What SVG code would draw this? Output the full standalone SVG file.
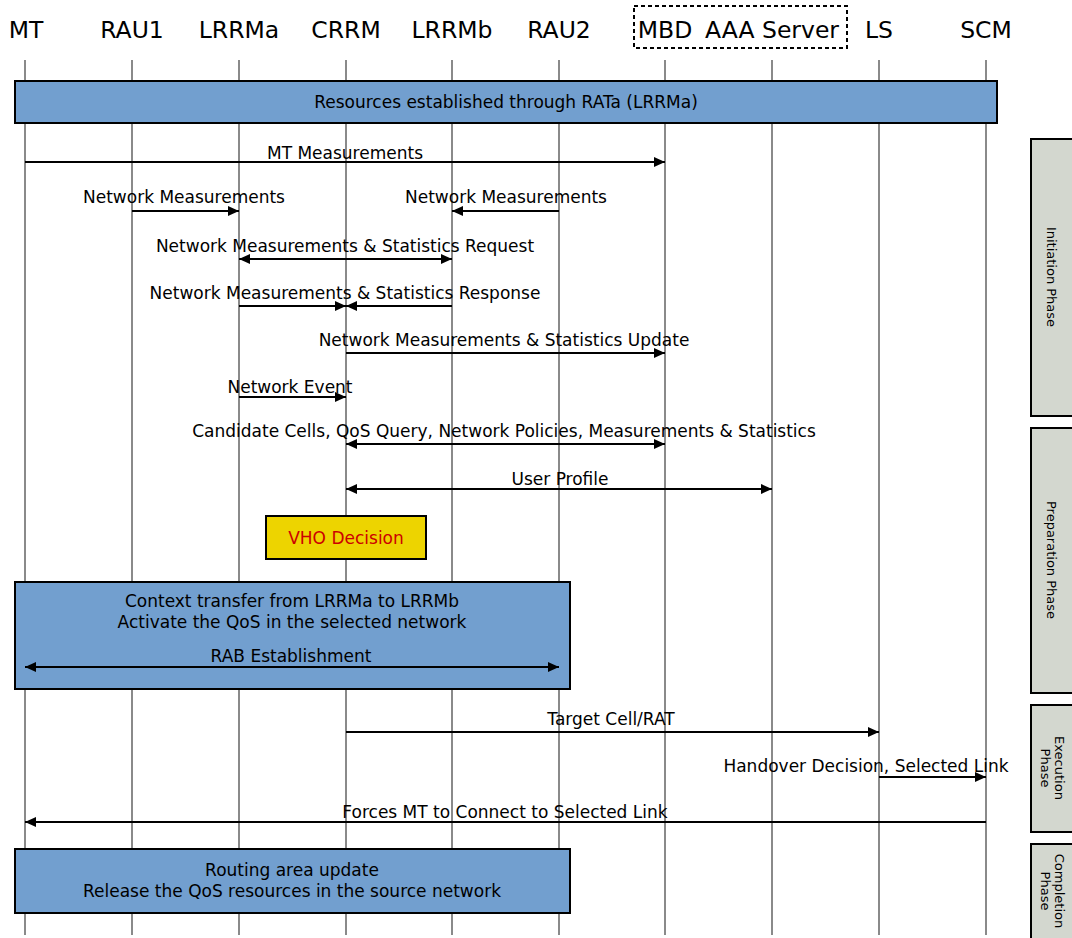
<svg xmlns="http://www.w3.org/2000/svg" width="1072" height="938" viewBox="0 0 1072 938">
  <style>
    text { font-family: "DejaVu Sans", "Liberation Sans", sans-serif; fill: #000; }
    .head { font-size: 23.5px; text-anchor: middle; }
    .lbl { font-size: 17px; text-anchor: middle; }
    .life { stroke: #8a8a8a; stroke-width: 2; }
    .msg { stroke: #000; stroke-width: 2; fill: none; }
    .band { fill: #729fcf; stroke: #000; stroke-width: 2; }
    .phase { fill: #d3d7cf; stroke: #000; stroke-width: 2; }
    .ptxt { font-size: 13px; text-anchor: middle; }
  </style>
  <defs>
    <marker id="arr" viewBox="0 0 11 10" refX="11" refY="5" markerWidth="11" markerHeight="10" markerUnits="userSpaceOnUse" orient="auto-start-reverse">
      <path d="M0,0 L11,5 L0,10 z" fill="#000"/>
    </marker>
  </defs>
  <rect width="1072" height="938" fill="#fff"/>

  <!-- participants -->
  <g id="participants">
    <g id="p-MT"><text class="head" x="26" y="38">MT</text><line class="life" x1="25" y1="60" x2="25" y2="935"/></g>
    <g id="p-RAU1"><text class="head" x="132" y="38">RAU1</text><line class="life" x1="132" y1="60" x2="132" y2="935"/></g>
    <g id="p-LRRMa"><text class="head" x="239" y="38">LRRMa</text><line class="life" x1="239" y1="60" x2="239" y2="935"/></g>
    <g id="p-CRRM"><text class="head" x="346" y="38">CRRM</text><line class="life" x1="346" y1="60" x2="346" y2="935"/></g>
    <g id="p-LRRMb"><text class="head" x="452" y="38">LRRMb</text><line class="life" x1="452" y1="60" x2="452" y2="935"/></g>
    <g id="p-RAU2"><text class="head" x="559" y="38">RAU2</text><line class="life" x1="559" y1="60" x2="559" y2="935"/></g>
    <g id="p-MBD"><text class="head" x="665" y="38">MBD</text><line class="life" x1="665" y1="60" x2="665" y2="935"/></g>
    <g id="p-AAA"><text class="head" x="772" y="38">AAA Server</text><line class="life" x1="772" y1="60" x2="772" y2="935"/></g>
    <g id="p-LS"><text class="head" x="879" y="38">LS</text><line class="life" x1="879" y1="60" x2="879" y2="935"/></g>
    <g id="p-SCM"><text class="head" x="986" y="38">SCM</text><line class="life" x1="986" y1="60" x2="986" y2="935"/></g>
    <rect id="core-group" x="634" y="6" width="213" height="42" fill="none" stroke="#000" stroke-width="2" stroke-dasharray="4,3"/>
  </g>

  <!-- resource bands and decision -->
  <g id="band-resources">
    <rect class="band" x="15" y="81" width="982" height="42"/>
    <text class="lbl" x="506" y="108">Resources established through RATa (LRRMa)</text>
  </g>
  <g id="vho-decision">
    <rect x="266" y="516" width="160" height="43" fill="#edd400" stroke="#000" stroke-width="2"/>
    <text class="lbl" x="346" y="544" style="fill:#cc0000">VHO Decision</text>
  </g>
  <g id="band-context">
    <rect class="band" x="15" y="582" width="555" height="107"/>
    <text class="lbl" x="292" y="607">Context transfer from LRRMa to LRRMb</text>
    <text class="lbl" x="292" y="628">Activate the QoS in the selected network</text>
  </g>
  <g id="band-routing">
    <rect class="band" x="15" y="849" width="555" height="64"/>
    <text class="lbl" x="292" y="876">Routing area update</text>
    <text class="lbl" x="292" y="897">Release the QoS resources in the source network</text>
  </g>

  <!-- messages -->
  <g id="connectors">
    <line class="msg" x1="25" y1="162" x2="665" y2="162" marker-end="url(#arr)"/>
    <text class="lbl" x="345" y="159">MT Measurements</text>

    <line class="msg" x1="132" y1="211" x2="239" y2="211" marker-end="url(#arr)"/>
    <text class="lbl" x="184" y="203">Network Measurements</text>
    <line class="msg" x1="559" y1="211" x2="452" y2="211" marker-end="url(#arr)"/>
    <text class="lbl" x="506" y="203">Network Measurements</text>

    <line class="msg" x1="239" y1="259" x2="452" y2="259" marker-start="url(#arr)" marker-end="url(#arr)"/>
    <text class="lbl" x="345" y="252">Network Measurements &amp; Statistics Request</text>

    <line class="msg" x1="239" y1="306" x2="346" y2="306" marker-end="url(#arr)"/>
    <line class="msg" x1="452" y1="306" x2="346" y2="306" marker-end="url(#arr)"/>
    <text class="lbl" x="345" y="299">Network Measurements &amp; Statistics Response</text>

    <line class="msg" x1="346" y1="353" x2="665" y2="353" marker-end="url(#arr)"/>
    <text class="lbl" x="504" y="346">Network Measurements &amp; Statistics Update</text>

    <line class="msg" x1="239" y1="397" x2="346" y2="397" marker-end="url(#arr)"/>
    <text class="lbl" x="290" y="393">Network Event</text>

    <line class="msg" x1="346" y1="444" x2="665" y2="444" marker-start="url(#arr)" marker-end="url(#arr)"/>
    <text class="lbl" x="504" y="437">Candidate Cells, QoS Query, Network Policies, Measurements &amp; Statistics</text>

    <line class="msg" x1="346" y1="489" x2="772" y2="489" marker-start="url(#arr)" marker-end="url(#arr)"/>
    <text class="lbl" x="560" y="485">User Profile</text>

    <line class="msg" x1="25" y1="667" x2="559" y2="667" marker-start="url(#arr)" marker-end="url(#arr)"/>
    <text class="lbl" x="291" y="662">RAB Establishment</text>

    <line class="msg" x1="346" y1="732" x2="879" y2="732" marker-end="url(#arr)"/>
    <text class="lbl" x="611" y="725">Target Cell/RAT</text>

    <line class="msg" x1="879" y1="777" x2="986" y2="777" marker-end="url(#arr)"/>
    <text class="lbl" x="866" y="772">Handover Decision, Selected Link</text>

    <line class="msg" x1="986" y1="822" x2="25" y2="822" marker-end="url(#arr)"/>
    <text class="lbl" x="505" y="818">Forces MT to Connect to Selected Link</text>
  </g>

  <!-- phase sidebar -->
  <g id="phase-initiation">
    <rect class="phase" x="1031" y="139" width="50" height="277"/>
    <text class="ptxt" transform="translate(1047,277) rotate(90)">Initiation Phase</text>
  </g>
  <g id="phase-preparation">
    <rect class="phase" x="1031" y="428" width="50" height="265"/>
    <text class="ptxt" transform="translate(1047,560) rotate(90)">Preparation Phase</text>
  </g>
  <g id="phase-execution">
    <rect class="phase" x="1031" y="705" width="50" height="127"/>
    <text class="ptxt" transform="translate(1055,768) rotate(90)"><tspan x="0" y="0">Execution</tspan><tspan x="0" y="14">Phase</tspan></text>
  </g>
  <g id="phase-completion">
    <rect class="phase" x="1031" y="844" width="50" height="110"/>
    <text class="ptxt" transform="translate(1055,891) rotate(90)"><tspan x="0" y="0">Completion</tspan><tspan x="0" y="14">Phase</tspan></text>
  </g>
</svg>
